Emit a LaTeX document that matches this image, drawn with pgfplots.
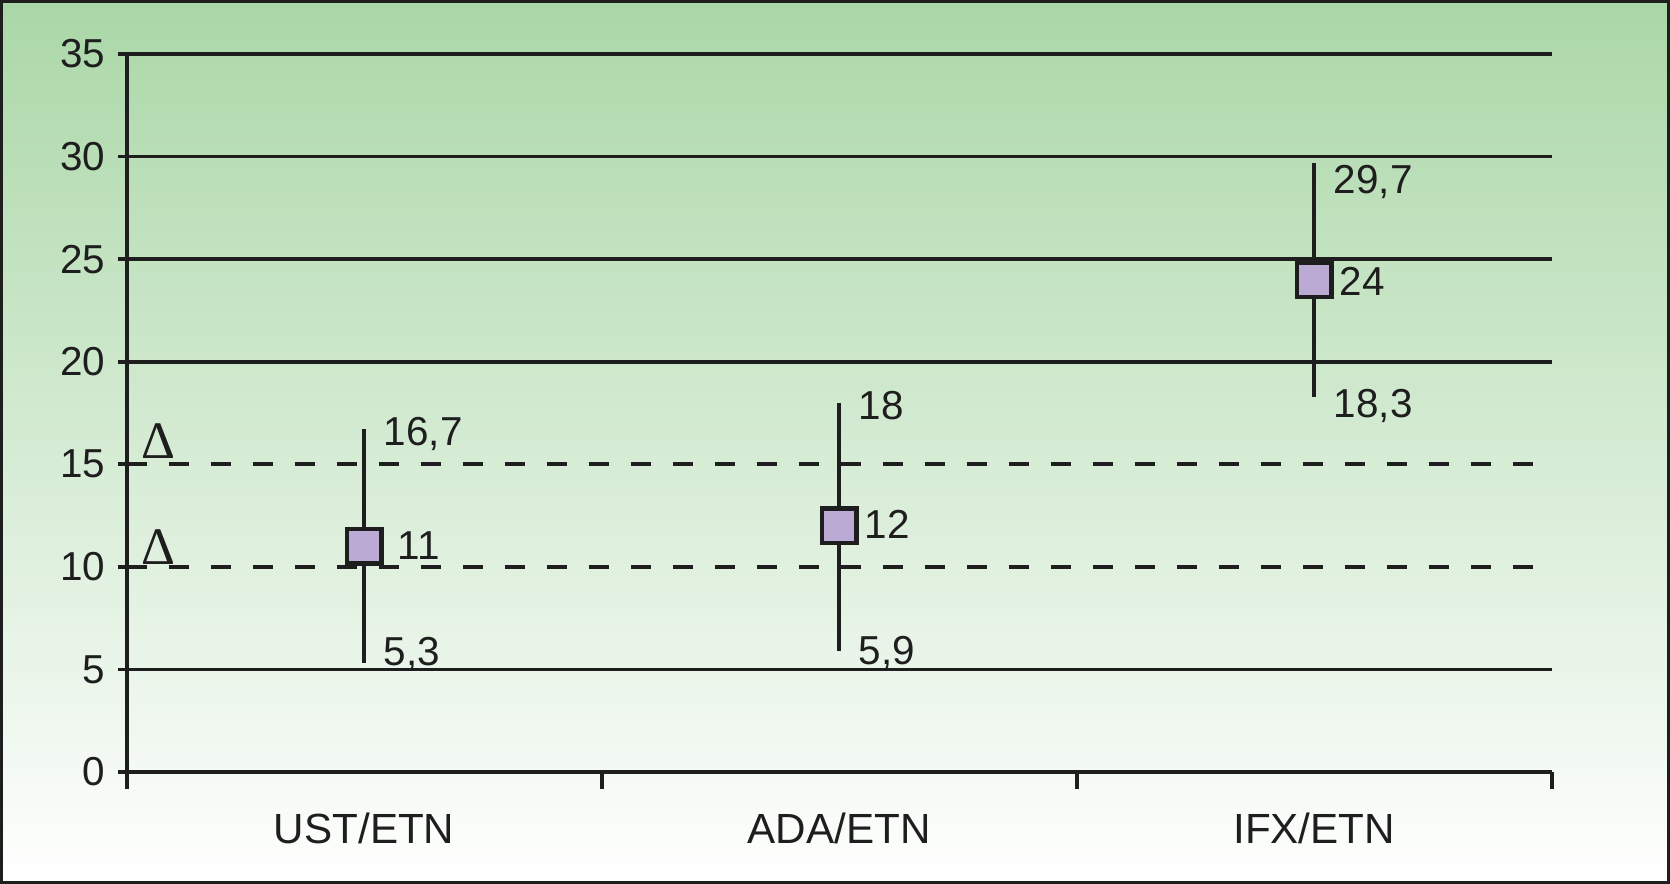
\documentclass[border=0pt]{standalone}
\usepackage{pgfplots}
\pgfplotsset{compat=1.18}
\usepackage{fontspec}
\setmainfont{Liberation Sans}
\newfontfamily\deltafont{Liberation Serif}
\definecolor{bgtop}{RGB}{170,215,167}
\definecolor{markfill}{RGB}{187,170,212}
\definecolor{ink}{RGB}{30,30,30}
\begin{document}
\begin{tikzpicture}
% background panel
\shade[top color=bgtop, bottom color=white] (-1.267cm,-1.12cm) rectangle (15.433cm,7.72cm);
\begin{axis}[
    at={(0,0)}, anchor=south west, scale only axis,
    width=14.25cm, height=7.18cm,
    xmin=0, xmax=3, ymin=0, ymax=35,
    axis x line=bottom, axis y line=left,
    axis line style={-, line width=1.05pt, ink},
    tick align=outside,
    major tick length=0.09cm,
    xtick={0.5,1.5,2.5},
    xticklabels={UST/ETN,ADA/ETN,IFX/ETN},
    xtick style={draw=none},
    extra x ticks={0,1,2,3},
    extra x tick labels={},
    extra x tick style={major tick length=0.17cm, xtick style={draw=ink, line width=1.05pt}},
    ytick={0,5,20,25,30,35},
    extra y ticks={10,15},
    ytick style={ink, line width=1.05pt},
    ymajorgrids,
    major grid style={ink, line width=1.05pt},
    extra y tick style={grid style={ink, line width=1.05pt, dash pattern=on 0.2cm off 0.22cm}},
    every tick label/.append style={font=\fontsize{11.5}{13}\selectfont, text=ink},
    xticklabel style={yshift=-0.2cm, font=\fontsize{12}{14}\selectfont},
    /pgf/number format/assume math mode=true,
    clip=false,
]
\addplot[only marks, mark=square*, mark size=4.9pt,
    mark options={fill=markfill, draw=ink, line width=1.3pt},
    error bars/.cd, y dir=both, y explicit, error mark=none,
    error bar style={ink, line width=1.05pt}]
    coordinates {
    (0.5,11) += (0,5.7) -= (0,5.7)
    (1.5,12) += (0,6) -= (0,6.1)
    (2.5,24) += (0,5.7) -= (0,5.7)
};
% labels at the ends of the intervals
\addplot[draw=none, mark=none, nodes near coords, point meta=explicit symbolic,
    every node near coord/.append style={anchor=west, inner sep=0pt, xshift=0.19cm,
        font=\fontsize{11.5}{13}\selectfont, text=ink}]
    coordinates {
    (0.5,16.46) [{16,7}]
    (0.5,5.76) [{5,3}]
    (1.5,17.86) [{18}]
    (1.5,5.82) [{5,9}]
    (2.5,28.77) [{29,7}]
    (2.5,17.86) [{18,3}]
};
% labels of the point estimates
\addplot[draw=none, mark=none, nodes near coords, point meta=explicit symbolic,
    every node near coord/.append style={anchor=west, inner sep=0pt, xshift=0.25cm,
        font=\fontsize{11.5}{13}\selectfont, text=ink}]
    coordinates {
    (1.5,12.05) [{12}]
    (2.5,23.9) [{24}]
};
\addplot[draw=none, mark=none, nodes near coords, point meta=explicit symbolic,
    every node near coord/.append style={anchor=west, inner sep=0pt, xshift=0.33cm,
        font=\fontsize{11.5}{13}\selectfont, text=ink}]
    coordinates {
    (0.5,11.06) [{11}]
};
\node[anchor=south, inner sep=0pt, yshift=0.05cm, text=ink,
    font=\deltafont\fontsize{15}{15}\selectfont] at (axis cs:0.067,15) {Δ};
\node[anchor=south, inner sep=0pt, yshift=0.02cm, text=ink,
    font=\deltafont\fontsize{15}{15}\selectfont] at (axis cs:0.067,10) {Δ};
\end{axis}
\draw[ink, line width=0.03cm] (-1.252cm,-1.105cm) rectangle (15.418cm,7.705cm);
\end{tikzpicture}
\end{document}
